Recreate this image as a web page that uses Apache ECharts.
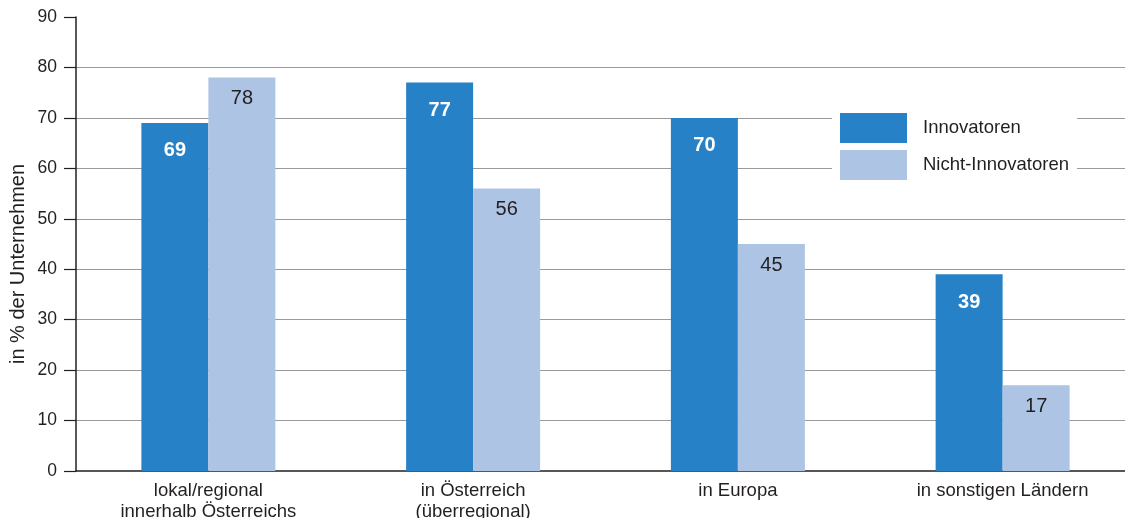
<!DOCTYPE html>
<html>
<head>
<meta charset="utf-8">
<script src="https://cdn.jsdelivr.net/npm/echarts@6/dist/echarts.min.js"></script>
<style>
  html, body { margin: 0; padding: 0; background: #fff; }
  #chart { width: 1125px; height: 518px; }
</style>
</head>
<body>
<div id="chart"></div>
<script>
// Absatzmärkte nach Region, Anteil der Unternehmen in %
const categories = ['lokal/regional\ninnerhalb Österreichs', 'in Österreich\n(überregional)', 'in Europa', 'in sonstigen Ländern'];
const innovatoren = [69, 77, 70, 39];
const nichtInnovatoren = [78, 56, 45, 17];
const yTicks = [0, 10, 20, 30, 40, 50, 60, 70, 80, 90];
const yAxisTitle = 'in % der Unternehmen';

const FONT = '"Liberation Sans", Arial, Helvetica, sans-serif';
const DARK = '#231f20';

const chart = echarts.init(document.getElementById('chart'), null, { renderer: 'canvas' });
chart.setOption({
  animation: false,
  textStyle: { fontFamily: FONT },
  // plot area runs slightly past the right edge of the canvas
  grid: { left: 76, width: 1059, top: 17, bottom: 47, containLabel: false, outerBoundsMode: 'none' },
  legend: {
    left: 832, top: 105,
    orient: 'vertical',
    itemWidth: 67, itemHeight: 30, itemGap: 7,
    padding: [8, 8, 8, 8],
    backgroundColor: '#fff',
    icon: 'rect',
    textStyle: { fontFamily: FONT, fontSize: 18.5, color: DARK, padding: [0, 0, 0, 11] },
    data: ['Innovatoren', 'Nicht-Innovatoren']
  },
  // rotated axis title
  graphic: [{
    type: 'text',
    x: 18, y: 264,
    rotation: Math.PI / 2,
    style: {
      text: yAxisTitle,
      font: '20px ' + FONT,
      fill: DARK,
      align: 'center',
      verticalAlign: 'middle'
    }
  }],
  xAxis: {
    type: 'category',
    data: categories,
    axisLine: { lineStyle: { color: DARK, width: 1.5 } },
    axisTick: { show: false },
    axisLabel: { fontFamily: FONT, fontSize: 18.5, color: DARK, margin: 9, lineHeight: 21, interval: 0 }
  },
  yAxis: {
    type: 'value',
    min: yTicks[0], max: yTicks[yTicks.length - 1], interval: 10,
    axisLine: { show: true, lineStyle: { color: DARK, width: 1.5 } },
    axisTick: { show: true, length: 12, lineStyle: { color: DARK, width: 1.2 } },
    axisLabel: { fontFamily: FONT, fontSize: 17.5, color: DARK, margin: 19 },
    splitLine: {
      show: true,
      lineStyle: { color: '#9a9a9a', width: 1.2 },
      showMinLine: false, showMaxLine: false
    }
  },
  series: [
    {
      name: 'Innovatoren',
      type: 'bar',
      data: innovatoren,
      barWidth: 67,
      barGap: '0%',
      itemStyle: { color: '#2781c6' },
      label: {
        show: true, position: 'insideTop', distance: 18,
        fontFamily: FONT, fontSize: 20, fontWeight: 'bold', color: '#fff'
      }
    },
    {
      name: 'Nicht-Innovatoren',
      type: 'bar',
      data: nichtInnovatoren,
      barWidth: 67,
      barGap: '0%',
      itemStyle: { color: '#adc4e4' },
      label: {
        show: true, position: 'insideTop', distance: 11,
        fontFamily: FONT, fontSize: 20, color: DARK
      }
    }
  ]
});
</script>
</body>
</html>
